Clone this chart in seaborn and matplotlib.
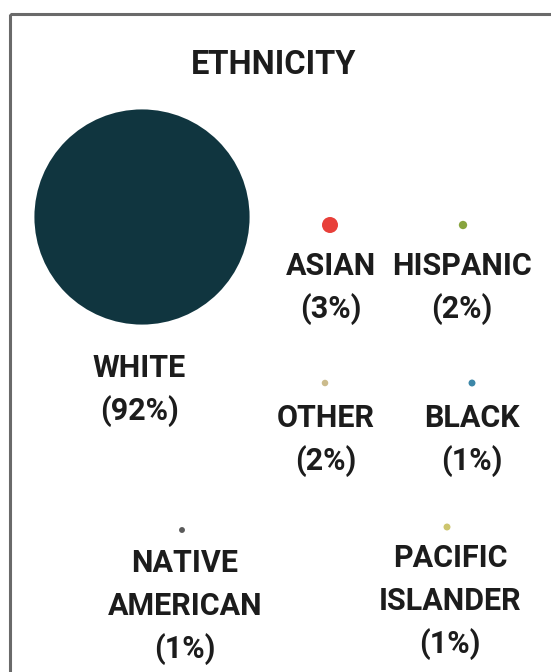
import matplotlib
matplotlib.use("Agg")
import matplotlib.pyplot as plt
import seaborn as sns
import pandas as pd
from matplotlib.patches import Rectangle

# ---- data ----
categories = ["WHITE", "ASIAN", "HISPANIC", "OTHER", "BLACK", "NATIVE AMERICAN", "PACIFIC ISLANDER"]
percent = [92, 3, 2, 2, 1, 1, 1]
title = "ETHNICITY"

# ---- layout / style (pixel space of a 551x672 canvas) ----
dot_x = [142, 330, 463, 325, 472, 182, 447]
dot_y = [217, 225, 225, 383, 383, 530, 527]
label_x = [139, 331, 462, 326, 472, 185, 450]
label_y = [377, 275, 275, 427, 427, 572, 567]
dot_sizes = {"WHITE": 24000, "ASIAN": 133, "HISPANIC": 36, "OTHER": 22,
             "BLACK": 25, "NATIVE AMERICAN": 18, "PACIFIC ISLANDER": 25}
palette = {"WHITE": "#10353f", "ASIAN": "#e8403a", "HISPANIC": "#88a43e",
           "OTHER": "#cbbb8c", "BLACK": "#3d87a8", "NATIVE AMERICAN": "#5a5a5a",
           "PACIFIC ISLANDER": "#cdc56e"}

sns.set_theme(style="white")
plt.rcParams["font.family"] = ["Roboto", "DejaVu Sans"]

W, H = 551, 672
fig = plt.figure(figsize=(W / 100, H / 100), dpi=100)
ax = fig.add_axes([0, 0, 1, 1])
ax.set_xlim(0, W)
ax.set_ylim(H, 0)
ax.set_axis_off()

df = pd.DataFrame({"category": categories, "percent": percent, "x": dot_x, "y": dot_y})
sns.scatterplot(data=df, x="x", y="y", hue="category", palette=palette,
                size="category", sizes=dot_sizes, linewidth=0, legend=False, ax=ax)
ax.set_xlim(0, W)
ax.set_ylim(H, 0)

# frame (top and left edges visible)
ax.add_patch(Rectangle((10, 14), 600, 700, fill=False, edgecolor="#6a6a6a", lw=2.2))

text_color = "#1c1c1c"
ax.text(274, 74, title, ha="center", va="baseline", fontsize=23.5,
        fontweight="bold", color=text_color)

line_gap = 43
for cat, pct, lx, ly in zip(categories, percent, label_x, label_y):
    lines = cat.split(" ") + [f"({pct}%)"]
    for i, ln in enumerate(lines):
        ax.text(lx, ly + i * line_gap, ln, ha="center", va="baseline",
                fontsize=22, fontweight="bold", color=text_color)

fig.savefig("out.png", dpi=100)
